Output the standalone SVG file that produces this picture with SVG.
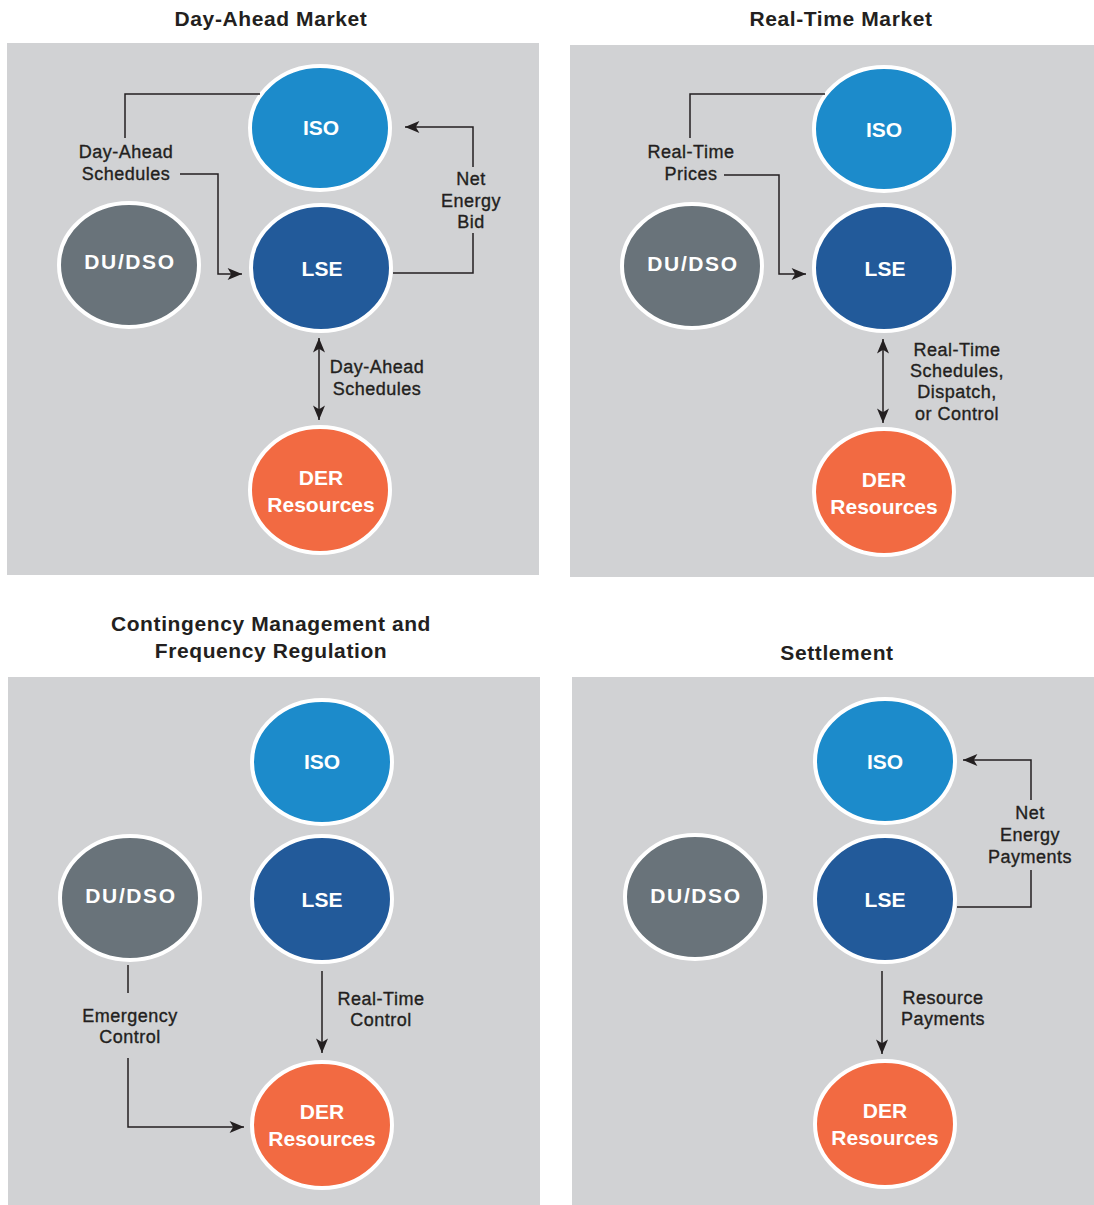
<svg xmlns="http://www.w3.org/2000/svg" width="1094" height="1205" viewBox="0 0 1094 1205">
<defs>
<style>
.panel{fill:#d1d2d4}
.node{stroke:#fff;stroke-width:4}
.iso{fill:#1c8bcb}
.lse{fill:#225a9a}
.dso{fill:#69737a}
.der{fill:#f26a42}
.nt{font-family:"Liberation Sans",Arial,sans-serif;font-weight:bold;font-size:21px;fill:#fff;text-anchor:middle}
.nt.w{letter-spacing:1.6px}
.title{font-family:"Liberation Sans",Arial,sans-serif;font-weight:bold;font-size:21px;fill:#231f20;text-anchor:middle;letter-spacing:0.6px}
.lbl{font-family:"Liberation Sans",Arial,sans-serif;font-size:18px;fill:#231f20;stroke:#231f20;stroke-width:0.35;text-anchor:middle;letter-spacing:0.5px}
.con{fill:none;stroke:#231f20;stroke-width:1.5}
</style>
<marker id="arr" viewBox="0 0 12 10" refX="12" refY="5" markerWidth="15" markerHeight="12" markerUnits="userSpaceOnUse" orient="auto-start-reverse">
<path d="M0,0 L12,5 L0,10 L3,5 Z" fill="#231f20"/>
</marker>
</defs>

<g id="panels">
<rect class="panel" x="7" y="43" width="532" height="532"/>
<rect class="panel" x="570" y="45" width="524" height="532"/>
<rect class="panel" x="8" y="677" width="532" height="528"/>
<rect class="panel" x="572" y="677" width="522" height="528"/>
</g>

<g id="titles">
<text class="title" x="271" y="26">Day-Ahead Market</text>
<text class="title" x="841" y="26">Real-Time Market</text>
<text class="title" x="271" y="631">Contingency Management and</text>
<text class="title" x="271" y="658">Frequency Regulation</text>
<text class="title" x="837" y="660">Settlement</text>
</g>

<!-- Panel 1 -->
<g id="p1-iso"><ellipse class="node iso" cx="320" cy="128" rx="70" ry="62"/><text class="nt" x="321" y="135">ISO</text></g>
<g id="p1-lse"><ellipse class="node lse" cx="321" cy="268" rx="70" ry="63"/><text class="nt" x="322" y="276">LSE</text></g>
<g id="p1-dso"><ellipse class="node dso" cx="129" cy="265" rx="70" ry="62"/><text class="nt w" x="130" y="269">DU/DSO</text></g>
<g id="p1-der"><ellipse class="node der" cx="320" cy="490" rx="70" ry="63"/><text class="nt" x="321" y="485">DER</text><text class="nt" x="321" y="512">Resources</text></g>

<!-- Panel 2 -->
<g id="p2-iso"><ellipse class="node iso" cx="884" cy="129" rx="70" ry="62"/><text class="nt" x="884" y="137">ISO</text></g>
<g id="p2-lse"><ellipse class="node lse" cx="884" cy="268" rx="70" ry="63"/><text class="nt" x="885" y="276">LSE</text></g>
<g id="p2-dso"><ellipse class="node dso" cx="692" cy="266" rx="70" ry="62"/><text class="nt w" x="693" y="271">DU/DSO</text></g>
<g id="p2-der"><ellipse class="node der" cx="884" cy="492" rx="70" ry="63"/><text class="nt" x="884" y="487">DER</text><text class="nt" x="884" y="514">Resources</text></g>

<!-- Panel 3 -->
<g id="p3-iso"><ellipse class="node iso" cx="322" cy="762" rx="70" ry="62"/><text class="nt" x="322" y="769">ISO</text></g>
<g id="p3-lse"><ellipse class="node lse" cx="322" cy="899" rx="70" ry="63"/><text class="nt" x="322" y="907">LSE</text></g>
<g id="p3-dso"><ellipse class="node dso" cx="130" cy="898" rx="70" ry="62"/><text class="nt w" x="131" y="903">DU/DSO</text></g>
<g id="p3-der"><ellipse class="node der" cx="322" cy="1125" rx="70" ry="63"/><text class="nt" x="322" y="1119">DER</text><text class="nt" x="322" y="1146">Resources</text></g>

<!-- Panel 4 -->
<g id="p4-iso"><ellipse class="node iso" cx="885" cy="761" rx="70" ry="62"/><text class="nt" x="885" y="769">ISO</text></g>
<g id="p4-lse"><ellipse class="node lse" cx="885" cy="899" rx="70" ry="63"/><text class="nt" x="885" y="907">LSE</text></g>
<g id="p4-dso"><ellipse class="node dso" cx="695" cy="897" rx="70" ry="62"/><text class="nt w" x="696" y="903">DU/DSO</text></g>
<g id="p4-der"><ellipse class="node der" cx="885" cy="1124" rx="70" ry="63"/><text class="nt" x="885" y="1118">DER</text><text class="nt" x="885" y="1145">Resources</text></g>

<g id="connectors">
<!-- Panel 1 -->
<path class="con" d="M260,94 H125 V138"/>
<path class="con" d="M180,174 H218 V274 H242" marker-end="url(#arr)"/>
<path class="con" d="M393,273 H473 V233"/>
<path class="con" d="M473,167 V127 H405" marker-end="url(#arr)"/>
<path class="con" d="M319,338 V420" marker-start="url(#arr)" marker-end="url(#arr)"/>
<!-- Panel 2 -->
<path class="con" d="M825,94 H690 V138"/>
<path class="con" d="M724,175 H779 V274 H806" marker-end="url(#arr)"/>
<path class="con" d="M883,339 V423" marker-start="url(#arr)" marker-end="url(#arr)"/>
<!-- Panel 3 -->
<path class="con" d="M128,965 V993"/>
<path class="con" d="M128,1058 V1127 H244" marker-end="url(#arr)"/>
<path class="con" d="M322,971 V1053" marker-end="url(#arr)"/>
<!-- Panel 4 -->
<path class="con" d="M957,907 H1031 V870"/>
<path class="con" d="M1031,800 V760 H963" marker-end="url(#arr)"/>
<path class="con" d="M882,971 V1054" marker-end="url(#arr)"/>
</g>

<g id="labels">
<text class="lbl" x="126" y="158">Day-Ahead</text>
<text class="lbl" x="126" y="180">Schedules</text>
<text class="lbl" x="471" y="185">Net</text>
<text class="lbl" x="471" y="207">Energy</text>
<text class="lbl" x="471" y="228">Bid</text>
<text class="lbl" x="377" y="373">Day-Ahead</text>
<text class="lbl" x="377" y="395">Schedules</text>

<text class="lbl" x="691" y="158">Real-Time</text>
<text class="lbl" x="691" y="180">Prices</text>
<text class="lbl" x="957" y="356">Real-Time</text>
<text class="lbl" x="957" y="377">Schedules,</text>
<text class="lbl" x="957" y="398">Dispatch,</text>
<text class="lbl" x="957" y="420">or Control</text>

<text class="lbl" x="130" y="1022">Emergency</text>
<text class="lbl" x="130" y="1043">Control</text>
<text class="lbl" x="381" y="1005">Real-Time</text>
<text class="lbl" x="381" y="1026">Control</text>

<text class="lbl" x="1030" y="819">Net</text>
<text class="lbl" x="1030" y="841">Energy</text>
<text class="lbl" x="1030" y="863">Payments</text>
<text class="lbl" x="943" y="1004">Resource</text>
<text class="lbl" x="943" y="1025">Payments</text>
</g>
</svg>
